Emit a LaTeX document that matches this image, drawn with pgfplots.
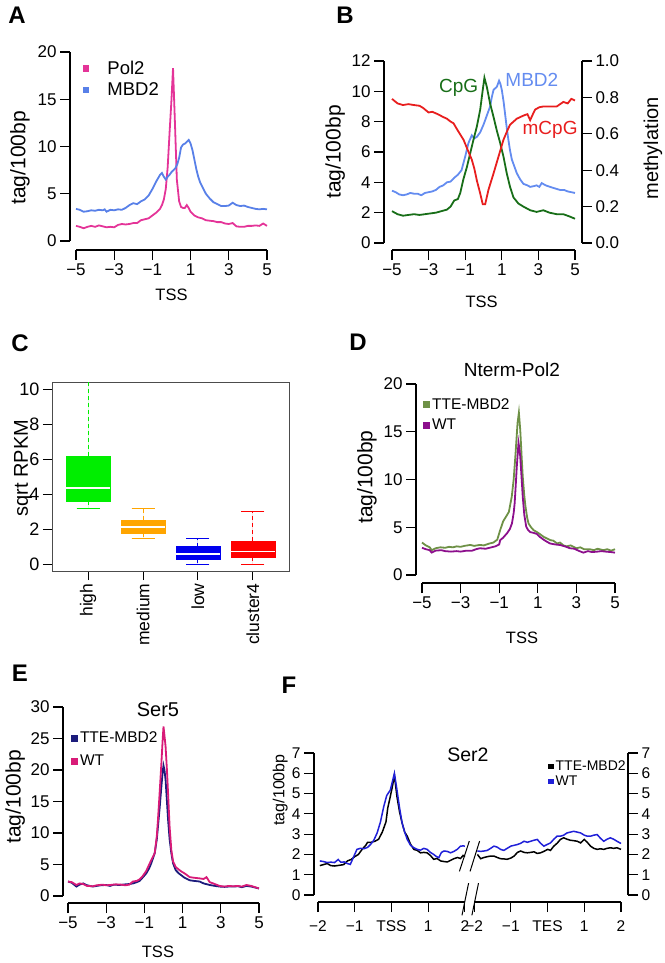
\documentclass[border=0pt]{standalone}
\usepackage{fontspec}
\setmainfont{Liberation Sans}
\usepackage{pgfplots}
\pgfplotsset{compat=1.18}
\usepgfplotslibrary{statistics}

\definecolor{polA}{RGB}{228,52,152}
\definecolor{mbdA}{RGB}{88,128,232}
\definecolor{cpgB}{RGB}{24,110,24}
\definecolor{mbdB}{RGB}{100,140,240}
\definecolor{mcpgB}{RGB}{232,30,30}
\definecolor{boxG}{RGB}{0,238,0}
\definecolor{boxO}{RGB}{255,165,0}
\definecolor{boxB}{RGB}{0,0,238}
\definecolor{boxR}{RGB}{255,0,0}
\definecolor{tteD}{RGB}{110,145,70}
\definecolor{wtD}{RGB}{140,15,140}
\definecolor{tteE}{RGB}{28,28,124}
\definecolor{wtE}{RGB}{216,27,120}
\definecolor{wtF}{RGB}{32,32,216}

\newcommand\fTick{\fontsize{17}{20}\selectfont}
\newcommand\fXlab{\fontsize{16.5}{19}\selectfont}
\newcommand\fYlab{\fontsize{21}{24}\selectfont}
\newcommand\fTitle{\fontsize{19}{22}\selectfont}
\newcommand\fLeg{\fontsize{15.5}{18}\selectfont}
\newcommand\fSmall{\fontsize{15.5}{18}\selectfont}
\newcommand\fPanel{\fontsize{24}{28}\selectfont\bfseries}

\pgfplotsset{
  Rax/.style={scale only axis, anchor=south west,
    axis x line*=bottom, axis y line*=left,
    tick align=outside, major tick length=10pt,
    axis line style={line width=1.1pt},
    tick style={black, line width=1.1pt},
    tick label style={font=\fTick}, xlabel style={font=\fXlab}, ylabel style={font=\fYlab},
    every axis title shift=0pt,
    title style={font=\fTitle, anchor=center},
    ylabel style={anchor=center}, xlabel style={anchor=center},
    legend cell align=left,
    legend style={draw=none, fill=none, anchor=north west, font=\fLeg},
    clip=false},
  curve/.style={line width=1.8pt},
}

\begin{document}
\begin{tikzpicture}
\path[use as bounding box] (0pt,0pt) rectangle (664pt,-963pt);

% ---------------- A
\node[font=\fPanel] at (17pt,-15pt) {A};
\begin{axis}[Rax, at={(76pt,-241pt)}, width=191pt, height=189pt,
  xmin=-5, xmax=5, ymin=0, ymax=20,
  axis x line shift=9pt, axis y line shift=6pt,
  xtick={-5,-3,-1,1,3,5}, xticklabels={−5,−3,−1,1,3,5},
  ytick={0,5,10,15,20}, yticklabels={0,5,10,15,20},
  xlabel={TSS}, xlabel style={at={(axis description cs:0.5,-0.286)}},
  ylabel={tag/100bp}, ylabel style={at={(axis description cs:-0.293,0.44)}},
  legend style={at={(rel axis cs:0.02,0.975)}, row sep=3pt, column sep=16pt, font=\fontsize{18.5}{21}\selectfont},
  legend image code/.code={\fill[#1] (0pt,-2.3pt) rectangle (4.6pt,2.3pt);}]
\addplot[curve, polA] coordinates {(-5,1.6) (-4.8,1.5) (-4.6,1.35) (-4.4,1.5) (-4.2,1.6) (-4,1.5) (-3.8,1.65) (-3.6,1.55) (-3.4,1.45) (-3.2,1.5) (-3,1.45) (-2.8,1.7) (-2.6,1.8) (-2.4,1.75) (-2.2,1.8) (-2,1.9) (-1.8,1.9) (-1.6,2.2) (-1.4,2.3) (-1.2,2.4) (-1,2.7) (-0.8,3) (-0.6,3.4) (-0.5,3.8) (-0.4,4.4) (-0.3,5.5) (-0.2,7.8) (-0.1,11.5) (0,15) (0.08,18.3) (0.18,12.5) (0.28,6.5) (0.4,4.2) (0.5,3.6) (0.6,3.5) (0.7,3.5) (0.8,3.8) (0.9,3.5) (1,3.1) (1.2,2.7) (1.4,2.5) (1.6,2.4) (1.8,2.2) (2,2.15) (2.2,2.1) (2.4,2) (2.6,2) (2.8,1.85) (3,1.8) (3.2,1.9) (3.4,1.55) (3.6,1.5) (3.8,1.5) (4,1.6) (4.2,1.6) (4.4,1.65) (4.6,1.6) (4.8,1.85) (5,1.6)};
\addlegendentry{Pol2}
\addplot[curve, mbdA] coordinates {(-5,3.4) (-4.8,3.3) (-4.6,3.1) (-4.4,3.15) (-4.2,3.25) (-4,3.2) (-3.8,3.3) (-3.6,3.25) (-3.5,3.35) (-3.4,3.1) (-3.2,3.3) (-3,3.25) (-2.8,3.35) (-2.6,3.3) (-2.4,3.5) (-2.2,3.8) (-2,4) (-1.8,3.9) (-1.6,4.2) (-1.4,4.4) (-1.2,4.8) (-1,5.5) (-0.8,6.3) (-0.6,7) (-0.5,7.2) (-0.4,6.8) (-0.3,6.5) (-0.2,6.8) (-0.1,7) (0,7.3) (0.1,7.5) (0.2,7.7) (0.3,8.1) (0.4,8.8) (0.5,9.9) (0.6,10.2) (0.7,10.3) (0.8,10.5) (0.9,10.7) (1,10.3) (1.1,9.6) (1.2,8.6) (1.3,7.6) (1.4,6.8) (1.5,6.2) (1.6,5.8) (1.8,5) (2,4.5) (2.2,4.1) (2.4,3.9) (2.6,3.7) (2.8,3.7) (3,3.75) (3.2,4.05) (3.4,3.8) (3.6,3.7) (3.8,3.75) (4,3.6) (4.2,3.5) (4.4,3.4) (4.6,3.35) (4.8,3.4) (5,3.35)};
\addlegendentry{MBD2}
\end{axis}

% ---------------- B
\node[font=\fPanel] at (345pt,-15pt) {B};
\begin{axis}[Rax, at={(392pt,-243pt)}, width=183pt, height=182pt,
  xmin=-5, xmax=5, ymin=0, ymax=12,
  axis x line shift=7pt, axis y line shift=8pt,
  xtick={-5,-3,-1,1,3,5}, xticklabels={−5,−3,−1,1,3,5},
  ytick={0,2,4,6,8,10,12}, yticklabels={0,2,4,6,8,10,12},
  xlabel={TSS}, xlabel style={at={(axis description cs:0.49,-0.324)}},
  ylabel={tag/100bp}, ylabel style={at={(axis description cs:-0.311,0.5)}}]
\addplot[curve, mbdB] coordinates {(-5,3.45) (-4.8,3.35) (-4.6,3.2) (-4.4,3.15) (-4.2,3.2) (-4,3.3) (-3.8,3.25) (-3.6,3.25) (-3.4,3.15) (-3.2,3.3) (-3,3.35) (-2.8,3.4) (-2.6,3.5) (-2.4,3.7) (-2.2,3.8) (-2,4) (-1.8,4.05) (-1.6,4.3) (-1.4,4.5) (-1.2,4.8) (-1,5.7) (-0.82,6.6) (-0.64,7.1) (-0.5,6.9) (-0.36,7) (-0.18,7.3) (0,7.8) (0.18,8.4) (0.36,9) (0.45,9.6) (0.55,10.1) (0.73,10.3) (0.85,10.7) (0.92,10.5) (1,10.1) (1.1,9.3) (1.18,8.5) (1.27,7.6) (1.36,6.8) (1.45,6.1) (1.55,5.5) (1.7,5) (1.82,4.6) (2,4.2) (2.18,3.9) (2.4,3.8) (2.55,3.7) (2.75,3.75) (2.9,3.8) (3.05,3.7) (3.18,3.95) (3.4,3.8) (3.64,3.7) (3.9,3.6) (4.18,3.5) (4.4,3.5) (4.6,3.4) (4.8,3.35) (5,3.3)};
\addplot[curve, cpgB] coordinates {(-5,2.1) (-4.7,1.9) (-4.4,1.8) (-4.1,1.85) (-3.8,1.9) (-3.5,1.85) (-3.2,1.9) (-2.9,1.95) (-2.6,2) (-2.3,2.1) (-2,2.2) (-1.8,2.4) (-1.6,2.8) (-1.4,2.9) (-1.27,3.3) (-1.1,4.2) (-0.91,5) (-0.73,5.9) (-0.55,6.8) (-0.36,7.7) (-0.18,8.8) (-0.04,10.1) (0.05,10.9) (0.18,10.3) (0.36,9.2) (0.55,8.3) (0.73,7.4) (0.91,6.6) (1.09,5.7) (1.27,4.6) (1.45,3.7) (1.64,3) (1.91,2.6) (2.18,2.4) (2.55,2.16) (2.9,2.05) (3.27,2.16) (3.6,2) (4,1.9) (4.36,1.9) (4.7,1.75) (5,1.6)};
\node[font=\fTitle, text=cpgB] at (axis cs:-1.36,10.26) {CpG};
\node[font=\fTitle, text=mbdB] at (axis cs:2.64,10.75) {MBD2};
\node[font=\fTitle, text=mcpgB] at (axis cs:3.64,7.45) {mCpG};
\end{axis}
\begin{axis}[Rax, at={(392pt,-243pt)}, width=183pt, height=182pt,
  xmin=-5, xmax=5, ymin=0, ymax=1,
  axis x line=none, axis y line*=right, axis y line shift=7pt,
  ytick={0,0.2,0.4,0.6,0.8,1}, yticklabels={0.0,0.2,0.4,0.6,0.8,1.0},
  ylabel={methylation}, ylabel style={at={(axis description cs:1.426,0.52)}, font=\fontsize{20}{23}\selectfont}]
\addplot[curve, mcpgB] coordinates {(-5,0.792) (-4.7,0.767) (-4.4,0.758) (-4.1,0.763) (-3.8,0.758) (-3.5,0.754) (-3.3,0.742) (-3,0.717) (-2.8,0.721) (-2.5,0.708) (-2.2,0.692) (-2,0.683) (-1.8,0.667) (-1.64,0.658) (-1.4,0.617) (-1.09,0.567) (-0.85,0.508) (-0.64,0.458) (-0.5,0.408) (-0.36,0.342) (-0.18,0.272) (-0.04,0.2125) (0.09,0.2125) (0.27,0.292) (0.55,0.383) (0.82,0.475) (1.09,0.567) (1.3,0.617) (1.45,0.65) (1.82,0.683) (2.18,0.7) (2.4,0.708) (2.55,0.675) (2.7,0.708) (2.82,0.733) (3.05,0.746) (3.27,0.75) (3.6,0.75) (4,0.75) (4.36,0.775) (4.6,0.767) (4.8,0.792) (5,0.783)};
\end{axis}

% ---------------- C
\node[font=\fPanel] at (20pt,-343pt) {C};
\begin{axis}[scale only axis, anchor=south west, at={(52pt,-571pt)}, width=237pt, height=189pt,
  xmin=0.34, xmax=4.66, ymin=-0.4, ymax=10.4,
  axis line style={line width=1pt, black!70},
  tick align=outside, major tick length=9pt, tick style={black, line width=1pt},
  xtick pos=left, ytick pos=left,
  xtick={1,2,3,4}, xticklabels={high,medium,low,cluster4},
  xticklabel style={rotate=90, anchor=east, font=\fontsize{17.5}{20}\selectfont},
  ytick={0,2,4,6,8,10}, yticklabels={0,2,4,6,8,10}, yticklabel style={font=\fontsize{18}{21}\selectfont},
  ylabel={sqrt RPKM}, ylabel style={font=\fontsize{20}{23}\selectfont, at={(axis description cs:-0.122,0.545)}, anchor=center},
  boxplot/draw direction=y,
  boxplot/every median/.style={draw=white, line width=1.8pt},
  boxplot/draw/lower whisker/.code={
    \draw[line width=1pt, dash pattern=on 4pt off 3pt] (boxplot box cs:\pgfplotsboxplotvalue{lower quartile},0.5) -- (boxplot box cs:\pgfplotsboxplotvalue{lower whisker},0.5);
    \draw[line width=1pt] (boxplot whisker cs:\pgfplotsboxplotvalue{lower whisker},0) -- (boxplot whisker cs:\pgfplotsboxplotvalue{lower whisker},1);},
  boxplot/draw/upper whisker/.code={
    \draw[line width=1pt, dash pattern=on 4pt off 3pt] (boxplot box cs:\pgfplotsboxplotvalue{upper quartile},0.5) -- (boxplot box cs:\pgfplotsboxplotvalue{upper whisker},0.5);
    \draw[line width=1pt] (boxplot whisker cs:\pgfplotsboxplotvalue{upper whisker},0) -- (boxplot whisker cs:\pgfplotsboxplotvalue{upper whisker},1);}]
\addplot[color=boxG, fill=boxG, boxplot prepared={draw position=1, median=4.33, lower quartile=3.6, upper quartile=6.17, lower whisker=3.17, upper whisker=12, box extend=0.8, whisker extend=0.42}] coordinates {};
\addplot[color=boxO, fill=boxO, boxplot prepared={draw position=2, median=2.1, lower quartile=1.75, upper quartile=2.51, lower whisker=1.43, upper whisker=3.16, box extend=0.8, whisker extend=0.42}] coordinates {};
\addplot[color=boxB, fill=boxB, boxplot prepared={draw position=3, median=0.57, lower quartile=0.27, upper quartile=0.99, lower whisker=0, upper whisker=1.43, box extend=0.8, whisker extend=0.42}] coordinates {};
\addplot[color=boxR, fill=boxR, boxplot prepared={draw position=4, median=0.72, lower quartile=0.38, upper quartile=1.33, lower whisker=0, upper whisker=3.01, box extend=0.8, whisker extend=0.42}] coordinates {};
\end{axis}

% ---------------- D
\node[font=\fPanel] at (358pt,-342pt) {D};
\begin{axis}[Rax, at={(422pt,-575pt)}, width=193pt, height=191pt,
  xmin=-5, xmax=5, ymin=0, ymax=20,
  axis x line shift=8pt, axis y line shift=6pt,
  xtick={-5,-3,-1,1,3,5}, xticklabels={−5,−3,−1,1,3,5},
  ytick={0,5,10,15,20}, yticklabels={0,5,10,15,20},
  title={Nterm-Pol2}, title style={at={(axis description cs:0.466,1.073)}},
  xlabel={TSS}, xlabel style={at={(axis description cs:0.518,-0.33)}},
  ylabel={tag/100bp}, ylabel style={at={(axis description cs:-0.285,0.513)}},
  legend style={at={(rel axis cs:-0.01,0.945)}, row sep=4pt, column sep=0pt},
  legend image code/.code={\fill[#1] (0pt,-2.5pt) rectangle (5pt,2.5pt);}]
\addplot[curve, tteD] coordinates {(-5,3.4) (-4.8,3.1) (-4.6,2.9) (-4.5,2.6) (-4.3,2.8) (-4.05,2.9) (-3.8,2.85) (-3.6,2.95) (-3.4,2.9) (-3.2,3) (-3,2.95) (-2.8,3.05) (-2.5,3.15) (-2.3,3.05) (-2,3.15) (-1.8,3.1) (-1.5,3.3) (-1.3,3.4) (-1.1,3.7) (-0.95,4.7) (-0.8,5.6) (-0.65,6.1) (-0.5,6.6) (-0.35,8.2) (-0.25,10) (-0.15,12.8) (-0.05,15.9) (0.02,17) (0.09,15.2) (0.16,12.5) (0.22,10.3) (0.3,8.3) (0.36,7.2) (0.45,6) (0.52,5.4) (0.65,5) (0.78,4.7) (0.95,4.5) (1.1,4.3) (1.3,4) (1.5,3.8) (1.65,3.65) (1.8,3.6) (2,3.3) (2.15,3.4) (2.33,3.1) (2.5,3) (2.7,3.1) (3,2.8) (3.2,2.9) (3.4,2.7) (3.7,2.7) (3.9,2.6) (4.1,2.75) (4.4,2.6) (4.6,2.7) (4.8,2.55) (5,2.7)};
\addlegendentry{TTE-MBD2}
\addplot[curve, wtD] coordinates {(-5,2.85) (-4.8,2.7) (-4.6,2.6) (-4.5,2.35) (-4.3,2.55) (-4,2.6) (-3.8,2.5) (-3.5,2.45) (-3.2,2.5) (-3,2.45) (-2.7,2.55) (-2.4,2.55) (-2.2,2.7) (-2,2.8) (-1.7,2.75) (-1.4,2.9) (-1.2,3) (-1,3.2) (-0.95,3.65) (-0.8,3.9) (-0.6,4.36) (-0.45,4.8) (-0.34,5.4) (-0.25,6.5) (-0.2,7.5) (-0.14,9.5) (-0.09,11.3) (0,13.85) (0.05,13.2) (0.09,12.4) (0.15,10.5) (0.22,8.2) (0.3,6.3) (0.4,5.06) (0.5,4.7) (0.6,4.5) (0.8,4.4) (0.95,4.3) (1.1,4) (1.3,3.7) (1.5,3.45) (1.64,3.3) (1.9,3.2) (2.16,3.14) (2.4,3) (2.67,2.8) (2.9,2.75) (3.1,2.55) (3.36,2.34) (3.6,2.5) (3.8,2.4) (4.05,2.44) (4.3,2.5) (4.57,2.44) (4.8,2.4) (5,2.34)};
\addlegendentry{WT}
\end{axis}

% ---------------- E
\node[font=\fPanel] at (20pt,-673pt) {E};
\begin{axis}[Rax, at={(68pt,-896pt)}, width=191pt, height=189pt,
  xmin=-5, xmax=5, ymin=0, ymax=30,
  axis x line shift=7pt, axis y line shift=5pt,
  xtick={-5,-3,-1,1,3,5}, xticklabels={−5,−3,−1,1,3,5},
  ytick={0,5,10,15,20,25,30}, yticklabels={0,5,10,15,20,25,30},
  title={Ser5}, title style={at={(axis description cs:0.471,0.984)}, font=\fontsize{20}{23}\selectfont},
  xlabel={TSS}, xlabel style={at={(axis description cs:0.471,-0.296)}},
  ylabel={tag/100bp}, ylabel style={at={(axis description cs:-0.277,0.524)}},
  legend style={at={(rel axis cs:0,0.89)}, row sep=7pt, column sep=0pt},
  legend image code/.code={\fill[#1] (0pt,-2.5pt) rectangle (5pt,2.5pt);}]
\addplot[curve, tteE] coordinates {(-5,2.3) (-4.8,2.1) (-4.56,1.5) (-4.4,1.8) (-4.2,2) (-4,1.7) (-3.7,1.5) (-3.5,1.6) (-3.3,1.7) (-3,1.75) (-2.8,1.6) (-2.6,1.8) (-2.3,1.75) (-2,1.85) (-1.8,1.9) (-1.6,2) (-1.4,2.2) (-1.25,2.4) (-1.1,2.9) (-0.9,3.6) (-0.75,4.4) (-0.64,5.2) (-0.46,6.8) (-0.35,9) (-0.29,11) (-0.2,14) (-0.11,17.4) (-0.04,19.8) (0,20.7) (0.05,20) (0.11,18.4) (0.18,15) (0.24,12.1) (0.32,9) (0.41,6.8) (0.5,5.2) (0.64,4.1) (0.8,3.6) (0.93,3.3) (1.1,2.9) (1.37,2.5) (1.6,2.4) (1.89,2.3) (2.1,2) (2.42,1.75) (2.7,1.6) (2.94,1.5) (3.2,1.45) (3.4,1.5) (3.64,1.5) (3.9,1.55) (4.1,1.4) (4.34,1.6) (4.6,1.5) (4.8,1.35) (5,1.2)};
\addlegendentry{TTE-MBD2}
\addplot[curve, wtE] coordinates {(-5,2.3) (-4.8,2.2) (-4.56,1.75) (-4.4,2) (-4.2,1.9) (-4,1.6) (-3.7,1.55) (-3.5,1.7) (-3.2,1.8) (-3,1.7) (-2.8,1.75) (-2.5,1.85) (-2.2,1.8) (-2,1.7) (-1.8,1.8) (-1.6,2.3) (-1.4,2.4) (-1.25,2.65) (-1.1,3.1) (-0.9,4) (-0.75,5) (-0.64,5.7) (-0.46,6.8) (-0.35,9.5) (-0.29,12.1) (-0.2,16.5) (-0.11,21.1) (-0.04,25) (0,26.9) (0.05,25.5) (0.11,23.7) (0.18,20) (0.24,16.3) (0.32,11) (0.41,7.3) (0.5,5.5) (0.64,4.6) (0.8,4.2) (0.93,3.9) (1.1,3.6) (1.37,3) (1.6,2.9) (1.89,2.8) (2.1,2.7) (2.25,3) (2.42,2.2) (2.6,2) (2.94,1.6) (3.2,1.5) (3.4,1.6) (3.64,1.55) (3.9,1.6) (4.1,1.5) (4.34,1.75) (4.6,1.6) (4.8,1.4) (5,1.2)};
\addlegendentry{WT}
\end{axis}

% ---------------- F
\node[font=\fPanel] at (289pt,-685pt) {F};
\begin{axis}[Rax, at={(318pt,-895pt)}, width=303pt, height=142pt,
  xmin=0, xmax=8.25, ymin=0, ymax=7,
  axis x line shift=7pt, axis y line shift=4pt,
  x axis line style={draw=none},
  tick label style={font=\fSmall}, xticklabel style={yshift=-5pt},
  xtick={0,1,2,3,4,4.25,5.25,6.25,7.25,8.25},
  xticklabels={−2,−1,TSS,1,2,−2,−1,TES,1,2},
  ytick={0,1,...,7}, yticklabels={0,1,2,3,4,5,6,7},
  title={Ser2}, title style={at={(axis description cs:0.495,0.986)}, font=\fontsize{19.5}{22}\selectfont},
  ylabel={tag/100bp}, ylabel style={font=\fontsize{16}{19}\selectfont, at={(axis description cs:-0.125,0.74)}},
  legend style={at={(rel axis cs:0.749,0.975)}, row sep=0pt, column sep=0pt, font=\fontsize{14}{16}\selectfont},
  legend image code/.code={\fill[#1] (0pt,-2pt) rectangle (4pt,2pt);}]
\addplot[line width=1.5pt, black] coordinates {(0.05,1.45) (0.15,1.5) (0.25,1.55) (0.35,1.45) (0.45,1.43) (0.6,1.47) (0.7,1.5) (0.8,1.68) (0.9,1.75) (1,1.89) (1.1,2) (1.2,2.25) (1.3,2.45) (1.35,2.6) (1.45,2.6) (1.55,2.65) (1.65,2.75) (1.75,3.1) (1.85,3.6) (1.9,4.3) (1.95,4.7) (2.02,5.3) (2.08,5.9) (2.15,4.85) (2.22,4.1) (2.29,3.55) (2.36,3.1) (2.43,2.9) (2.52,2.5) (2.61,2.25) (2.7,2.2) (2.79,2.08) (2.88,2.1) (2.97,2.08) (3.06,1.95) (3.15,1.76) (3.24,1.8) (3.34,1.68) (3.43,1.65) (3.52,1.63) (3.6,1.7) (3.7,1.79) (3.8,1.85) (3.88,1.8) (3.95,1.95) (4,1.89)};
\addlegendentry{TTE-MBD2}
\addplot[line width=1.5pt, wtF] coordinates {(0.05,1.68) (0.15,1.65) (0.25,1.6) (0.35,1.62) (0.45,1.6) (0.55,1.75) (0.62,1.62) (0.72,1.63) (0.8,1.55) (0.88,1.51) (0.95,1.8) (1.06,2.25) (1.15,2.3) (1.25,2.28) (1.35,2.35) (1.43,2.49) (1.52,2.7) (1.61,3.06) (1.7,3.6) (1.79,4.36) (1.87,4.9) (1.97,5.18) (2.04,5.7) (2.08,6) (2.15,5.18) (2.22,4.3) (2.29,3.55) (2.36,3.1) (2.43,2.74) (2.52,2.45) (2.61,2.33) (2.7,2.25) (2.79,2.21) (2.88,2.3) (2.97,2.25) (3.06,2.1) (3.15,2) (3.22,1.9) (3.29,1.84) (3.36,2.1) (3.43,2.17) (3.52,2.15) (3.61,2.08) (3.7,2.15) (3.79,2.25) (3.88,2.41) (3.95,2.42) (4,2.41)};
\addlegendentry{WT}
\addplot[line width=1.5pt, black, forget plot] coordinates {(4.34,2) (4.43,1.79) (4.52,1.85) (4.61,1.89) (4.7,1.92) (4.79,1.92) (4.88,1.85) (4.97,1.79) (5.06,1.78) (5.15,1.76) (5.25,1.82) (5.34,1.92) (5.43,2.1) (5.52,2.17) (5.61,2.1) (5.7,2.08) (5.79,2.1) (5.88,2.13) (5.97,2.05) (6.06,2.08) (6.15,2.15) (6.25,2.25) (6.33,2.2) (6.42,2.41) (6.51,2.55) (6.6,2.74) (6.69,2.82) (6.78,2.75) (6.87,2.7) (6.96,2.68) (7.06,2.65) (7.15,2.57) (7.25,2.74) (7.33,2.6) (7.42,2.41) (7.51,2.3) (7.6,2.25) (7.69,2.28) (7.78,2.25) (7.87,2.3) (7.96,2.33) (8.05,2.3) (8.14,2.33) (8.25,2.25)};
\addplot[line width=1.5pt, wtF, forget plot] coordinates {(4.34,2.17) (4.43,2.15) (4.52,2.17) (4.61,2.2) (4.7,2.3) (4.79,2.41) (4.88,2.36) (4.97,2.25) (5.06,2.2) (5.15,2.3) (5.25,2.41) (5.34,2.45) (5.43,2.49) (5.52,2.55) (5.61,2.65) (5.7,2.6) (5.79,2.65) (5.88,2.7) (5.97,2.74) (6.06,2.55) (6.15,2.41) (6.25,2.5) (6.33,2.57) (6.42,2.75) (6.51,2.9) (6.6,2.9) (6.69,2.95) (6.78,3.06) (6.87,3.1) (6.96,3.14) (7.06,3.1) (7.15,3.06) (7.25,2.95) (7.33,2.9) (7.42,2.9) (7.51,2.95) (7.6,2.98) (7.69,2.8) (7.78,2.65) (7.87,2.75) (7.96,2.82) (8.05,2.75) (8.14,2.65) (8.25,2.54)};
% broken x axis and break marks
\draw[line width=1.1pt] ([yshift=-7pt]axis cs:0,0) -- ([yshift=-7pt]axis cs:4,0);
\draw[line width=1.1pt] ([yshift=-7pt]axis cs:4.25,0) -- ([yshift=-7pt]axis cs:8.25,0);
\draw[line width=1pt] (axis cs:3.92,-1) -- (axis cs:4.1,0.585);
\draw[line width=1pt] (axis cs:4.19,-1) -- (axis cs:4.37,0.585);
\draw[line width=1pt] (axis cs:3.85,1.165) -- (axis cs:4.12,2.66);
\draw[line width=1pt] (axis cs:4.14,1.165) -- (axis cs:4.4,2.66);
\end{axis}
\begin{axis}[Rax, at={(318pt,-895pt)}, width=303pt, height=142pt,
  xmin=0, xmax=8.25, ymin=0, ymax=7,
  axis x line=none, axis y line*=right, axis y line shift=7pt,
  tick label style={font=\fSmall},
  ytick={0,1,...,7}, yticklabels={0,1,2,3,4,5,6,7}]
\end{axis}
\end{tikzpicture}
\end{document}
